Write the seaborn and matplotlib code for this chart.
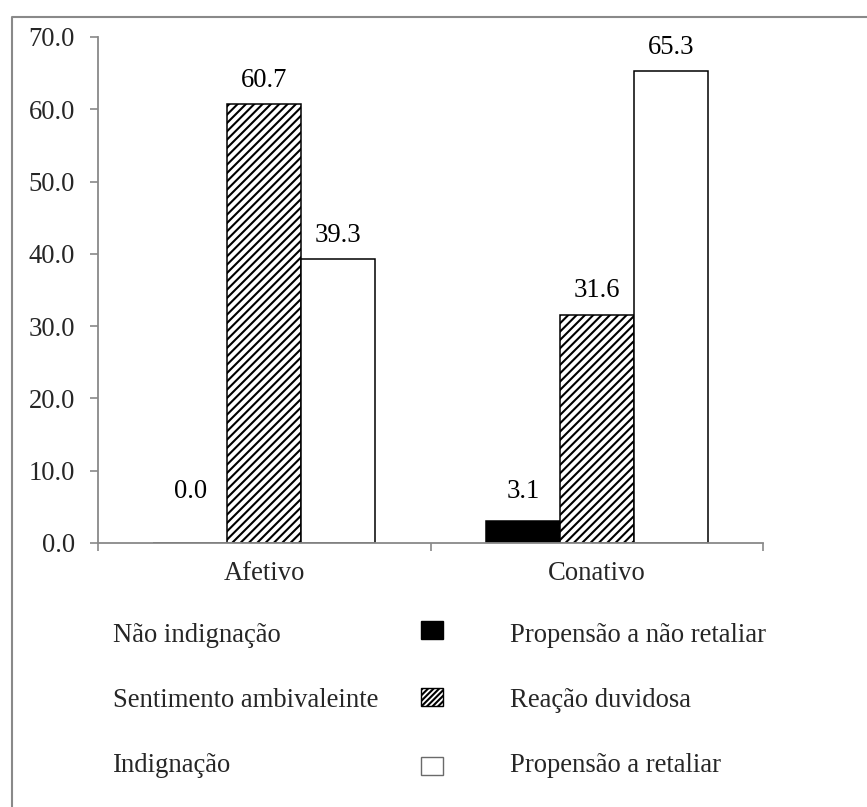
import numpy as np
import pandas as pd
import matplotlib
matplotlib.use("Agg")
import matplotlib.pyplot as plt
from matplotlib.patches import Rectangle
from matplotlib.lines import Line2D
from matplotlib.ticker import FormatStrFormatter
import seaborn as sns

# ---- data -------------------------------------------------------------
categories = ["Afetivo", "Conativo"]
left_labels = ["Não indignação", "Sentimento ambivaleinte", "Indignação"]
right_labels = ["Propensão a não retaliar", "Reação duvidosa", "Propensão a retaliar"]
black_values = [0.0, 3.1]
hatched_values = [60.7, 31.6]
white_values = [39.3, 65.3]
y_ticks = [0, 10, 20, 30, 40, 50, 60, 70]

series_values = [black_values, hatched_values, white_values]
df = pd.DataFrame(
    [
        {"categoria": cat, "serie": right_labels[i], "valor": vals[j]}
        for i, vals in enumerate(series_values)
        for j, cat in enumerate(categories)
    ]
)

# ---- style ------------------------------------------------------------
sns.set_style("white")
plt.rcParams["font.family"] = ["Liberation Serif", "DejaVu Serif"]
plt.rcParams["hatch.linewidth"] = 1.5
FS = 19.2
GRAY = "#898989"

W, H = 867, 807
fig = plt.figure(figsize=(W / 100, H / 100), dpi=100)
fig.patch.set_facecolor("white")

def fx(px):
    return px / W

def fy(py):
    return 1 - py / H

ax = fig.add_axes([fx(98), fy(543), fx(763) - fx(98), fy(37) - fy(543)])

sns.barplot(
    data=df, x="categoria", y="valor", hue="serie",
    hue_order=right_labels, order=categories,
    palette=["black", "white", "white"], saturation=1,
    width=0.667, edgecolor="black", linewidth=1.1,
    legend=False, ax=ax,
)

for patch in ax.containers[1]:
    patch.set_hatch("////")

# value labels above each bar (offset in points)
pads = [[28, 12], [8, 8], [8, 8]]
for cont, pad in zip(ax.containers, pads):
    for patch, p in zip(cont, pad):
        h = patch.get_height()
        ax.annotate(f"{h:.1f}", (patch.get_x() + patch.get_width() / 2, h),
                    xytext=(0, p), textcoords="offset points",
                    ha="center", va="bottom", fontsize=FS, color="black")

ax.set_ylim(0, 70)
ax.set_xlim(-0.5, 1.5)
ax.set_yticks(y_ticks)
ax.yaxis.set_major_formatter(FormatStrFormatter("%.1f"))
ax.set_xlabel("")
ax.set_ylabel("")

for side in ["top", "right"]:
    ax.spines[side].set_visible(False)
for side in ["left", "bottom"]:
    ax.spines[side].set_color(GRAY)
    ax.spines[side].set_linewidth(1.3)

ax.tick_params(axis="y", direction="out", length=5.5, width=1.2, color=GRAY,
               pad=11, labelsize=FS, left=True)
ax.tick_params(axis="x", which="major", length=0, pad=13, labelsize=FS)
ax.set_xticks([-0.5, 0.5, 1.5], minor=True)
ax.tick_params(axis="x", which="minor", direction="out", length=5.5, width=1.2,
               color=GRAY, bottom=True)

# legend: left text, key, right text
key_centers = [630, 697, 766]
baselines = [642, 707, 772]
faces = ["black", "white", "white"]
hatches = [None, "//////", None]
edges = ["black", "black", "#6a6a6a"]
for i in range(3):
    fig.text(fx(113), fy(baselines[i]), left_labels[i], fontsize=FS,
             ha="left", va="baseline")
    fig.text(fx(510), fy(baselines[i]), right_labels[i], fontsize=FS,
             ha="left", va="baseline")
    rect = Rectangle((fx(421), fy(key_centers[i] + 9)), fx(22), 18 / H,
                     transform=fig.transFigure, facecolor=faces[i],
                     edgecolor=edges[i], linewidth=1.0, hatch=hatches[i])
    fig.patches.append(rect)

# chart frame
fig.lines.append(Line2D([fx(11.5), fx(11.5), fx(W + 2)],
                        [fy(H + 2), fy(16.5), fy(16.5)],
                        transform=fig.transFigure, color=GRAY, linewidth=1.5))

fig.savefig("out.png", dpi=100)
